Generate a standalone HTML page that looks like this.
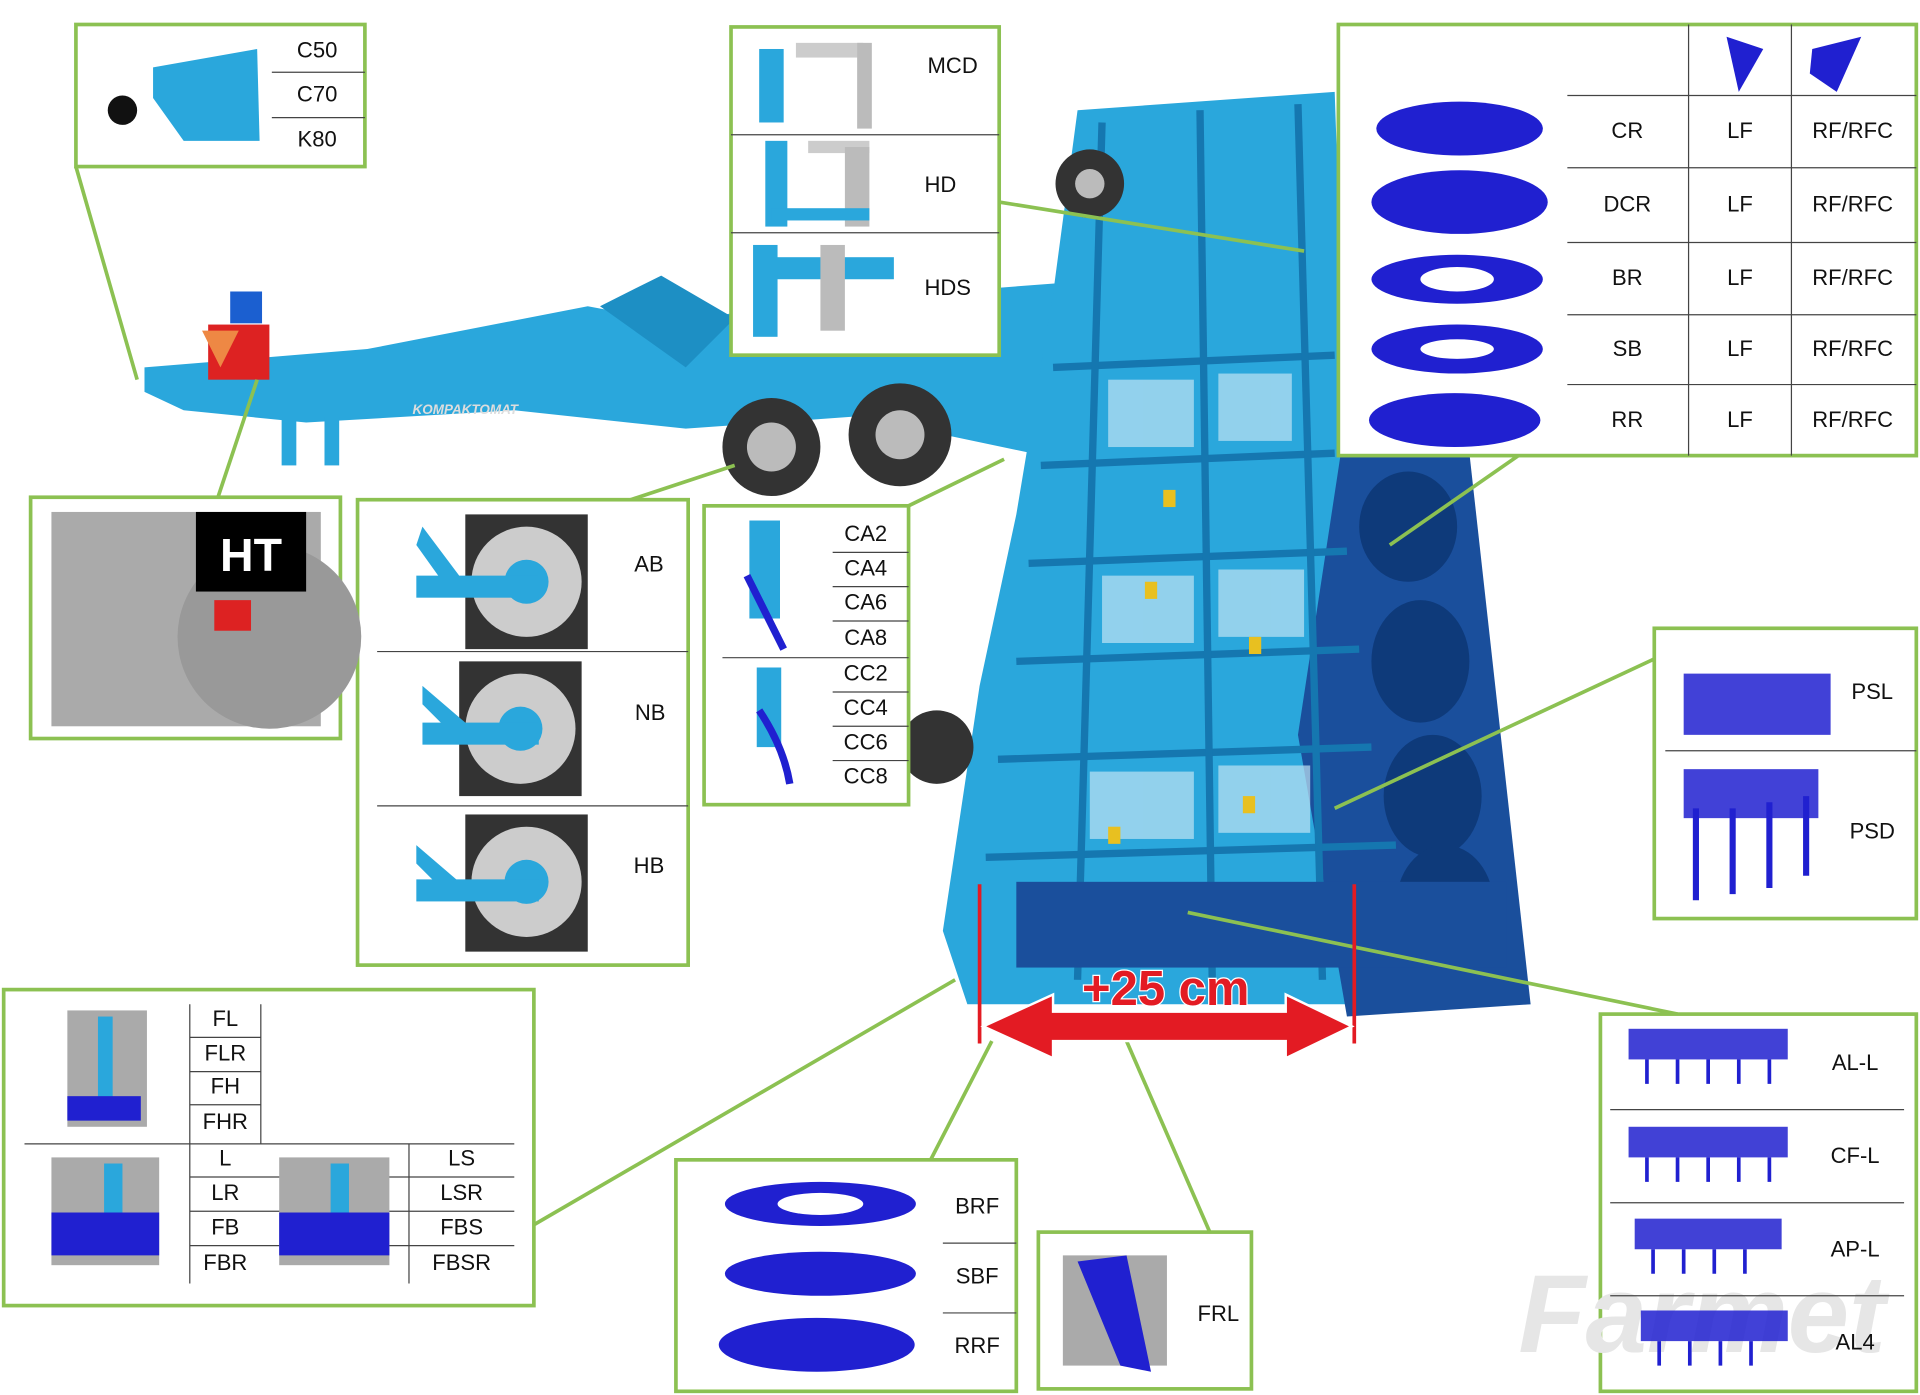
<!DOCTYPE html>
<html><head><meta charset="utf-8"><style>
html,body{margin:0;padding:0;background:#fff;}
svg{display:block;}
text{font-family:"Liberation Sans",sans-serif;font-size:18px;fill:#111;text-anchor:middle;dominant-baseline:middle;}
</style></head><body>
<svg width="1920" height="1395" viewBox="0 0 1568 1139" preserveAspectRatio="none" xmlns="http://www.w3.org/2000/svg">
<rect width="1568" height="1139" fill="#fff"/>
<!-- machine -->
<g>
 <polygon points="118,300 300,285 480,250 560,265 620,250 880,230 890,380 700,340 560,350 420,335 250,345 150,335 118,320" fill="#2aa7dc"/>
 <polygon points="490,250 540,225 600,260 560,300" fill="#1d8fc4"/>
 <rect x="230" y="340" width="12" height="40" fill="#2aa7dc"/><rect x="265" y="340" width="12" height="40" fill="#2aa7dc"/>
 <rect x="170" y="265" width="50" height="45" fill="#d22"/><polygon points="165,270 195,270 180,300" fill="#e84"/>
 <rect x="188" y="238" width="26" height="26" fill="#1b5fd0"/>
 <text x="380" y="335" style="font-size:11px;font-weight:bold;font-style:italic;fill:#ddd">KOMPAKTOMAT</text>
 <polygon points="880,90 1090,75 1100,370 1250,820 790,820 770,760 800,560 830,420 860,240" fill="#2aa7dc"/>
 <polygon points="1095,370 1200,370 1250,820 1100,830 1060,600" fill="#1a4f9c"/>
 <g fill="#0e3a7a">
  <ellipse cx="1150" cy="430" rx="40" ry="45"/><ellipse cx="1160" cy="540" rx="40" ry="50"/><ellipse cx="1170" cy="650" rx="40" ry="50"/><ellipse cx="1180" cy="740" rx="40" ry="50"/>
 </g>
 <g fill="#bfe3f3" opacity="0.7">
  <rect x="905" y="310" width="70" height="55"/><rect x="995" y="305" width="60" height="55"/>
  <rect x="900" y="470" width="75" height="55"/><rect x="995" y="465" width="70" height="55"/>
  <rect x="890" y="630" width="85" height="55"/><rect x="995" y="625" width="75" height="55"/>
 </g>
 <g stroke="#1577b0" stroke-width="6" fill="none">
  <line x1="860" y1="300" x2="1090" y2="290"/><line x1="850" y1="380" x2="1090" y2="370"/><line x1="840" y1="460" x2="1100" y2="450"/>
  <line x1="830" y1="540" x2="1110" y2="530"/><line x1="815" y1="620" x2="1120" y2="610"/><line x1="805" y1="700" x2="1140" y2="690"/>
  <line x1="900" y1="100" x2="880" y2="800"/><line x1="980" y1="90" x2="990" y2="800"/><line x1="1060" y1="85" x2="1080" y2="800"/>
 </g>
 <g fill="#e8c020"><rect x="935" y="475" width="10" height="14"/><rect x="1020" y="520" width="10" height="14"/><rect x="905" y="675" width="10" height="14"/><rect x="1015" y="650" width="10" height="14"/><rect x="950" y="400" width="10" height="14"/><rect x="890" y="765" width="10" height="14"/></g>
 <g fill="#1a4f9c">
  <rect x="830" y="720" width="400" height="70"/>
 </g>
 <g fill="#333"><circle cx="630" cy="365" r="40"/><circle cx="735" cy="355" r="42"/><circle cx="890" cy="150" r="28"/><circle cx="765" cy="610" r="30"/></g>
 <g fill="#bbb"><circle cx="630" cy="365" r="20"/><circle cx="735" cy="355" r="20"/><circle cx="890" cy="150" r="12"/></g>
</g>
<!-- green connectors -->
<g stroke="#8cc152" stroke-width="3" fill="none">
 <line x1="62" y1="136" x2="112" y2="310"/>
 <line x1="816" y1="165" x2="1065" y2="205"/>
 <line x1="1240" y1="372" x2="1135" y2="445"/>
 <line x1="178" y1="406" x2="210" y2="310"/>
 <line x1="515" y1="408" x2="600" y2="380"/>
 <line x1="742" y1="413" x2="820" y2="375"/>
 <line x1="1351" y1="538" x2="1090" y2="660"/>
 <line x1="436" y1="1000" x2="780" y2="800"/>
 <line x1="760" y1="947" x2="810" y2="850"/>
 <line x1="988" y1="1006" x2="920" y2="850"/>
 <line x1="1370" y1="828" x2="970" y2="745"/>
</g>
<!-- red arrow -->
<g stroke="#e31b23" stroke-width="3"><line x1="800" y1="722" x2="800" y2="852"/><line x1="1106" y1="722" x2="1106" y2="852"/></g>
<polygon points="803,838 860,812 860,826 1050,826 1050,812 1104,838 1050,864 1050,850 860,850 860,864" fill="#e31b23" stroke="#fff" stroke-width="2"/>
<text x="952" y="810" style="font-size:40px;font-weight:bold;fill:#e31b23;stroke:#fff;stroke-width:2;paint-order:stroke">+25 cm</text>

<g fill="#fff" stroke="#8cc152" stroke-width="3">
 <rect x="62" y="20" width="236" height="116"/>
 <rect x="597" y="22" width="219" height="268"/>
 <rect x="1093" y="20" width="472" height="352"/>
 <rect x="25" y="406" width="253" height="197"/>
 <rect x="292" y="408" width="270" height="380"/>
 <rect x="575" y="413" width="167" height="244"/>
 <rect x="1351" y="513" width="214" height="237"/>
 <rect x="3" y="808" width="433" height="258"/>
 <rect x="552" y="947" width="278" height="189"/>
 <rect x="848" y="1006" width="174" height="128"/>
 <rect x="1307" y="828" width="258" height="308"/>
</g>
<!-- watermark -->
<text x="1390" y="1080" style="font-size:90px;font-weight:bold;font-style:italic;fill:#e6e6e6">Farmet</text>
<g stroke="#444" stroke-width="1">
 <line x1="222" y1="59" x2="298" y2="59"/><line x1="222" y1="96" x2="298" y2="96"/>
 <line x1="597" y1="110" x2="816" y2="110"/><line x1="597" y1="190" x2="816" y2="190"/>
 <line x1="1379" y1="20" x2="1379" y2="372"/><line x1="1463" y1="20" x2="1463" y2="372"/>
 <line x1="1280" y1="78" x2="1565" y2="78"/><line x1="1280" y1="137" x2="1565" y2="137"/><line x1="1280" y1="198" x2="1565" y2="198"/><line x1="1280" y1="257" x2="1565" y2="257"/><line x1="1280" y1="314" x2="1565" y2="314"/>
 <line x1="308" y1="532" x2="562" y2="532"/><line x1="308" y1="658" x2="562" y2="658"/>
 <line x1="590" y1="537" x2="742" y2="537"/>
 <line x1="680" y1="451" x2="742" y2="451"/><line x1="680" y1="479" x2="742" y2="479"/><line x1="680" y1="507" x2="742" y2="507"/>
 <line x1="680" y1="565" x2="742" y2="565"/><line x1="680" y1="593" x2="742" y2="593"/><line x1="680" y1="621" x2="742" y2="621"/>
 <line x1="1360" y1="613" x2="1565" y2="613"/>
 <line x1="155" y1="820" x2="155" y2="1048"/><line x1="213" y1="820" x2="213" y2="934"/><line x1="334" y1="934" x2="334" y2="1048"/>
 <line x1="155" y1="847" x2="213" y2="847"/><line x1="155" y1="875" x2="213" y2="875"/><line x1="155" y1="902" x2="213" y2="902"/>
 <line x1="20" y1="934" x2="420" y2="934"/>
 <line x1="155" y1="961" x2="420" y2="961"/><line x1="155" y1="989" x2="420" y2="989"/><line x1="155" y1="1017" x2="420" y2="1017"/>
 <line x1="770" y1="1015" x2="830" y2="1015"/><line x1="770" y1="1072" x2="830" y2="1072"/>
 <line x1="1315" y1="906" x2="1555" y2="906"/><line x1="1315" y1="982" x2="1555" y2="982"/><line x1="1315" y1="1058" x2="1555" y2="1058"/>
</g>
<!-- thumbnails -->
<g fill="#2020d0">
 <ellipse cx="1192" cy="105" rx="68" ry="22"/><ellipse cx="1192" cy="165" rx="72" ry="26"/><ellipse cx="1190" cy="228" rx="70" ry="20"/><ellipse cx="1190" cy="285" rx="70" ry="20"/><ellipse cx="1188" cy="343" rx="70" ry="22"/>
 <ellipse cx="670" cy="983" rx="78" ry="18"/><ellipse cx="670" cy="1040" rx="78" ry="18"/><ellipse cx="667" cy="1098" rx="80" ry="22"/>
 <polygon points="1410,30 1440,40 1420,75"/><polygon points="1480,40 1520,30 1500,75 1478,60"/>
</g>
<g fill="#fff"><ellipse cx="1190" cy="228" rx="30" ry="10"/><ellipse cx="670" cy="983" rx="35" ry="9"/><ellipse cx="1190" cy="285" rx="30" ry="8"/></g>
<!-- top-left / MCD thumbnails -->
<g fill="#2aa7dc">
 <polygon points="125,55 210,40 212,115 150,115 125,80"/>
 <rect x="620" y="40" width="20" height="60"/><rect x="650" y="35" width="55" height="12" fill="#ccc"/><rect x="700" y="35" width="12" height="70" fill="#bbb"/>
 <rect x="625" y="115" width="18" height="70"/><rect x="660" y="115" width="50" height="10" fill="#ccc"/><rect x="690" y="120" width="20" height="65" fill="#bbb"/><rect x="630" y="170" width="80" height="10"/>
 <rect x="615" y="200" width="20" height="75"/><rect x="620" y="210" width="110" height="18"/><rect x="670" y="200" width="20" height="70" fill="#bbb"/>
</g>
<circle cx="100" cy="90" r="12" fill="#111"/>
<!-- wheels AB/NB/HB -->
<g>
 <rect x="380" y="420" width="100" height="110" fill="#333"/><circle cx="430" cy="475" r="45" fill="#ccc"/><circle cx="430" cy="475" r="18" fill="#2aa7dc"/>
 <rect x="375" y="540" width="100" height="110" fill="#333"/><circle cx="425" cy="595" r="45" fill="#ccc"/><circle cx="425" cy="595" r="18" fill="#2aa7dc"/>
 <rect x="380" y="665" width="100" height="112" fill="#333"/><circle cx="430" cy="720" r="45" fill="#ccc"/><circle cx="430" cy="720" r="18" fill="#2aa7dc"/>
 <g fill="#2aa7dc"><rect x="340" y="470" width="100" height="18"/><rect x="345" y="590" width="95" height="18"/><rect x="340" y="718" width="100" height="18"/>
 <polygon points="345,430 375,470 365,480 340,445"/><polygon points="345,560 380,590 370,600 345,575"/><polygon points="340,690 375,720 365,730 340,705"/></g>
</g>
<rect x="42" y="418" width="220" height="175" fill="#aaa"/><circle cx="220" cy="520" r="75" fill="#999"/>
<rect x="160" y="418" width="90" height="65" fill="#000"/><text x="205" y="456" style="font-size:38px;font-weight:bold;fill:#fff">HT</text>
<rect x="175" y="490" width="30" height="25" fill="#d22"/>
<g fill="#aaa"><rect x="55" y="825" width="65" height="95"/><rect x="42" y="945" width="88" height="88"/><rect x="228" y="945" width="90" height="88"/><rect x="868" y="1025" width="85" height="90"/></g>
<g fill="#2aa7dc"><rect x="612" y="425" width="25" height="80"/><rect x="618" y="545" width="20" height="65"/><rect x="80" y="830" width="12" height="70"/><rect x="85" y="950" width="15" height="55"/><rect x="270" y="950" width="15" height="55"/></g>
<g fill="#2020d0">
 <g opacity="0.85"><rect x="1375" y="550" width="120" height="50"/><rect x="1375" y="628" width="110" height="40"/></g>
 <g stroke="#2020d0" stroke-width="5"><line x1="1385" y1="660" x2="1385" y2="735"/><line x1="1415" y1="660" x2="1415" y2="730"/><line x1="1445" y1="655" x2="1445" y2="725"/><line x1="1475" y1="650" x2="1475" y2="715"/></g>
 <g opacity="0.85"><rect x="1330" y="840" width="130" height="25"/><rect x="1330" y="920" width="130" height="25"/><rect x="1335" y="995" width="120" height="25"/><rect x="1340" y="1070" width="120" height="25"/></g>
 <g stroke="#2020d0" stroke-width="3"><path d="M1345 865v20M1370 865v20M1395 865v20M1420 865v20M1445 865v20M1345 945v20M1370 945v20M1395 945v20M1420 945v20M1445 945v20M1350 1020v20M1375 1020v20M1400 1020v20M1425 1020v20M1355 1095v20M1380 1095v20M1405 1095v20M1430 1095v20"/></g>
 <rect x="55" y="895" width="60" height="20"/><rect x="42" y="990" width="88" height="35"/><rect x="228" y="990" width="90" height="35"/><polygon points="880,1030 920,1025 940,1120 915,1115"/><path d="M610 470 q20 40 30 60 M620 580 q20 30 25 60" stroke="#2020d0" stroke-width="6" fill="none"/></g>
<!-- labels -->
<text x="259" y="42">C50</text><text x="259" y="78">C70</text><text x="259" y="115">K80</text>
<text x="778" y="55">MCD</text><text x="768" y="152">HD</text><text x="774" y="236">HDS</text>
<text x="1329" y="108">CR</text><text x="1421" y="108">LF</text><text x="1513" y="108">RF/RFC</text>
<text x="1329" y="168">DCR</text><text x="1421" y="168">LF</text><text x="1513" y="168">RF/RFC</text>
<text x="1329" y="228">BR</text><text x="1421" y="228">LF</text><text x="1513" y="228">RF/RFC</text>
<text x="1329" y="286">SB</text><text x="1421" y="286">LF</text><text x="1513" y="286">RF/RFC</text>
<text x="1329" y="344">RR</text><text x="1421" y="344">LF</text><text x="1513" y="344">RF/RFC</text>
<text x="530" y="462">AB</text><text x="531" y="583">NB</text><text x="530" y="708">HB</text>
<text x="707" y="437">CA2</text><text x="707" y="465">CA4</text><text x="707" y="493">CA6</text><text x="707" y="522">CA8</text>
<text x="707" y="551">CC2</text><text x="707" y="579">CC4</text><text x="707" y="607">CC6</text><text x="707" y="635">CC8</text>
<text x="1529" y="566">PSL</text><text x="1529" y="680">PSD</text>
<text x="184" y="833">FL</text><text x="184" y="861">FLR</text><text x="184" y="888">FH</text><text x="184" y="917">FHR</text>
<text x="184" y="947">L</text><text x="184" y="975">LR</text><text x="184" y="1003">FB</text><text x="184" y="1032">FBR</text>
<text x="377" y="947">LS</text><text x="377" y="975">LSR</text><text x="377" y="1003">FBS</text><text x="377" y="1032">FBSR</text>
<text x="798" y="986">BRF</text><text x="798" y="1043">SBF</text><text x="798" y="1100">RRF</text>
<text x="995" y="1074">FRL</text>
<text x="1515" y="869">AL-L</text><text x="1515" y="945">CF-L</text><text x="1515" y="1021">AP-L</text><text x="1515" y="1097">AL4</text>
</svg>
</body></html>
